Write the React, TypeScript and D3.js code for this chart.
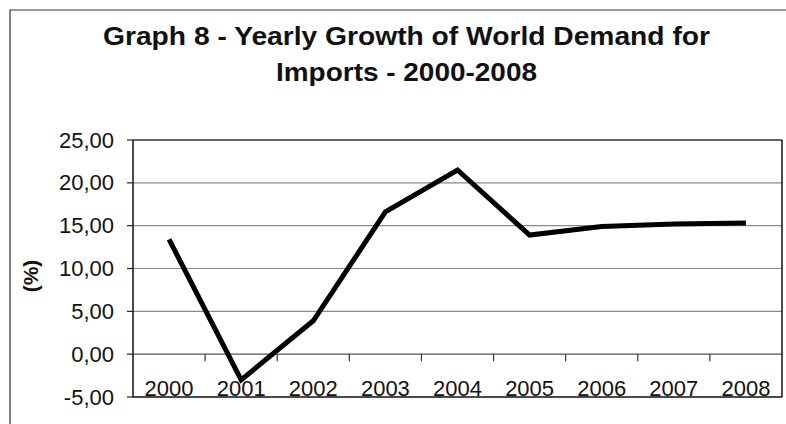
import React from "react";
import * as d3 from "d3";

// Yearly growth of world demand for imports (%)
const years: string[] = ["2000", "2001", "2002", "2003", "2004", "2005", "2006", "2007", "2008"];
const growth: number[] = [13.4, -3.0, 3.9, 16.6, 21.5, 13.9, 14.9, 15.2, 15.3];
const yTicks: number[] = [-5, 0, 5, 10, 15, 20, 25];
const titleLines: string[] = ["Graph 8 - Yearly Growth of World Demand for", "Imports - 2000-2008"];
const yAxisTitle = "(%)";

const W = 786;
const H = 424;
const plot = { left: 133, right: 782, top: 140, bottom: 397 };

const fmt = (v: number) => v.toFixed(2).replace(".", ",");

export default function App() {
  const x = d3.scaleBand<string>().domain(years).range([plot.left, plot.right]).padding(0);
  const y = d3.scaleLinear().domain([-5, 25]).range([plot.bottom, plot.top]);

  const line = d3
    .line<number>()
    .x((_, i) => (x(years[i]) as number) + x.bandwidth() / 2)
    .y((d) => y(d));

  const sans = "'Liberation Sans', Arial, Helvetica, sans-serif";
  const narrow = "'Liberation Sans Narrow', 'Arial Narrow', 'Liberation Sans', Arial, sans-serif";
  const cx = 406.5;

  return (
    <div style={{ position: "fixed", left: 0, top: 0, width: W, height: H, background: "#fff" }}>
      <svg width={W} height={H} viewBox={`0 0 ${W} ${H}`} style={{ display: "block" }}>
        <rect x={0} y={0} width={W} height={H} fill="#fff" />
        {/* outer chart frame */}
        <path d={`M10,${H} V10 H${W}`} fill="none" stroke="#333" strokeWidth={1.2} />

        {/* title */}
        <text
          x={cx}
          y={45}
          textAnchor="middle"
          fontFamily={narrow}
          fontWeight="bold"
          fontSize={26}
          textLength={607}
          lengthAdjust="spacingAndGlyphs"
          fill="#111"
        >
          {titleLines[0]}
        </text>
        <text
          x={cx}
          y={81}
          textAnchor="middle"
          fontFamily={narrow}
          fontWeight="bold"
          fontSize={26}
          textLength={261}
          lengthAdjust="spacingAndGlyphs"
          fill="#111"
        >
          {titleLines[1]}
        </text>

        {/* gridlines */}
        {yTicks.map((t) => (
          <line
            key={`g${t}`}
            x1={plot.left}
            x2={plot.right}
            y1={y(t)}
            y2={y(t)}
            stroke={t === 0 ? "#555" : "#8a8a8a"}
            strokeWidth={1.2}
          />
        ))}

        {/* plot frame */}
        <line x1={plot.left} x2={plot.right} y1={plot.top} y2={plot.top} stroke="#444" strokeWidth={1.3} />
        <line x1={plot.left} x2={plot.right} y1={plot.bottom} y2={plot.bottom} stroke="#222" strokeWidth={1.5} />
        <line x1={plot.left} x2={plot.left} y1={plot.top} y2={plot.bottom} stroke="#111" strokeWidth={1.5} />
        <line x1={plot.right} x2={plot.right} y1={plot.top} y2={plot.bottom} stroke="#111" strokeWidth={1.5} />

        {/* y ticks and labels */}
        {yTicks.map((t) => (
          <g key={`y${t}`}>
            <line x1={plot.left - 6} x2={plot.left} y1={y(t)} y2={y(t)} stroke="#222" strokeWidth={1.2} />
            <text
              x={114}
              y={y(t) + 7.5}
              textAnchor="end"
              fontFamily={sans}
              fontSize={22}
              fill="#111"
            >
              {fmt(t)}
            </text>
          </g>
        ))}

        {/* category ticks on the zero axis */}
        {years.slice(1).map((yr) => (
          <line
            key={`xt${yr}`}
            x1={x(yr) as number}
            x2={x(yr) as number}
            y1={y(0)}
            y2={y(0) + 7}
            stroke="#333"
            strokeWidth={1.2}
          />
        ))}

        {/* category labels at the bottom of the plot */}
        {years.map((yr) => (
          <text
            key={`xl${yr}`}
            x={(x(yr) as number) + x.bandwidth() / 2}
            y={396}
            textAnchor="middle"
            fontFamily={sans}
            fontSize={22}
            fill="#111"
          >
            {yr}
          </text>
        ))}

        {/* y-axis title */}
        <text
          transform={`translate(38,276) rotate(-90)`}
          textAnchor="middle"
          fontFamily={sans}
          fontWeight="bold"
          fontSize={21}
          fill="#111"
        >
          {yAxisTitle}
        </text>

        {/* growth line */}
        <path
          d={line(growth) ?? ""}
          fill="none"
          stroke="#000"
          strokeWidth={5}
          strokeLinejoin="miter"
          strokeLinecap="butt"
        />
      </svg>
    </div>
  );
}
